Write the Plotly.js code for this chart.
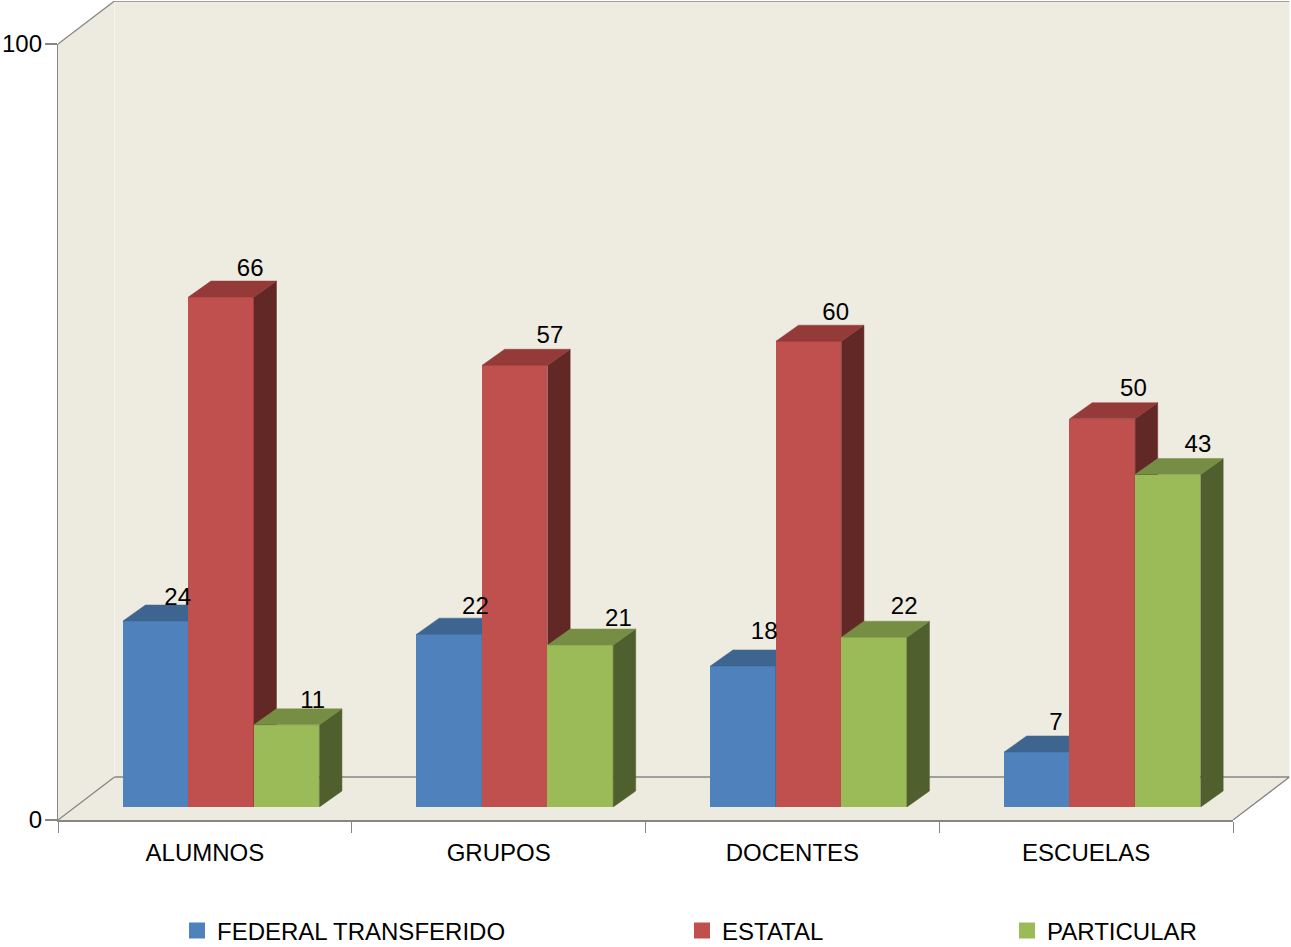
<!DOCTYPE html>
<html>
<head>
<meta charset="utf-8">
<script src="https://cdn.plot.ly/plotly-3.0.1.min.js"></script>
<style>html,body{margin:0;padding:0;background:#fff}</style>
</head>
<body>
<div id="chart" style="width:1291px;height:947px"></div>
<script>
// ---- data ----
const categories = ['ALUMNOS', 'GRUPOS', 'DOCENTES', 'ESCUELAS'];
const federal = [24.0, 22.3, 18.2, 7.1];
const estatal = [65.8, 57.0, 60.1, 50.1];
const particular = [10.6, 20.9, 21.9, 42.9];
const seriesNames = ['FEDERAL TRANSFERIDO', 'ESTATAL', 'PARTICULAR'];
const yTicks = [0, 100];

// ---- styles ----
const W = 1291, H = 947;
const pxX = 293.75, pxY = 7.76, pxYBar = 7.75;
const font = '"Liberation Sans", Arial, sans-serif';
const colors = [
  {front:'#4F81BD', top:'#3E6490', side:'#2E4B6E'},
  {front:'#C0504D', top:'#943B39', side:'#622826'},
  {front:'#9BBB59', top:'#768E44', side:'#4F5F2D'}
];
const barW = 65.5 / pxX, depthX = 22.5 / pxX, depthY = 16 / pxYBar;
const wallX = 56.5 / pxX, wallY = 43 / pxY;
const wallColor = '#EDEADF', edge = '#868686';
const seriesValues = [federal, estatal, particular];
// label nudges in pixels from each bar's top-centre
const labelDx = [[22,26,21,19],[29,35,27,31],[26,38,30,30]];
const labelDy = [[22,26,32.5,28],[27,28,27,29],[23,25,29,29]];

function poly(points, color, xa, ya){
  return {type:'scatter', mode:'lines', x:points.map(p=>p?p[0]:null), y:points.map(p=>p?p[1]:null),
    fill:'toself', fillcolor:color, line:{color:color,width:0.5}, xaxis:xa, yaxis:ya,
    cliponaxis:false, hoverinfo:'skip', showlegend:false};
}

const traces = [];
// walls and floor, on a hidden subplot wide enough to hold the depth of the box
const n = categories.length;
const wallTop = 100 + wallY, wallRight = n + wallX;
traces.push(poly([[0,0],[wallX,wallY],[wallX,wallTop],[0,100],[0,0]], wallColor, 'x','y'));
traces.push(poly([[wallX,wallY],[wallRight,wallY],[wallRight,wallTop],[wallX,wallTop],[wallX,wallY]], '#EEEBE0', 'x','y'));
traces.push(poly([[0,0],[n,0],[wallRight,wallY],[wallX,wallY],[0,0]], wallColor, 'x','y'));
traces.push({type:'scatter', mode:'lines', xaxis:'x', yaxis:'y', cliponaxis:false, hoverinfo:'skip', showlegend:false,
  line:{color:'#F5F3EC',width:1},
  x:[wallX,wallX], y:[wallY,wallTop]});
traces.push({type:'scatter', mode:'lines', xaxis:'x', yaxis:'y', cliponaxis:false, hoverinfo:'skip', showlegend:false,
  line:{color:edge,width:1.3},
  x:[0,wallX,wallRight,null,wallX,wallRight,n,null,0,wallX],
  y:[100,wallTop,wallTop,null,wallY,wallY,0,null,0,wallY]});

// bars: one overlaid subplot per series, so each series paints over the previous one
seriesValues.forEach((vals,s)=>{
  const ax = s+2, xa='x'+ax, ya='y'+ax;
  const off = (s-1.5)*barW;
  const xs = categories.map((_,i)=>i+0.5);
  traces.push({type:'bar', x:xs, y:vals, width:barW, offset:off, name:seriesNames[s],
    marker:{color:colors[s].front,line:{width:0}}, xaxis:xa, yaxis:ya, hoverinfo:'y', showlegend:false});
  const side=[], top=[];
  vals.forEach((v,i)=>{
    const x0=i+0.5+off, x1=x0+barW;
    side.push([x1,0],[x1+depthX,depthY],[x1+depthX,v+depthY],[x1,v],[x1,0],null);
    top.push([x0,v],[x1,v],[x1+depthX,v+depthY],[x0+depthX,v+depthY],[x0,v],null);
  });
  traces.push(poly(side,colors[s].side,xa,ya));
  traces.push(poly(top,colors[s].top,xa,ya));
});
// value labels, above every bar
seriesValues.forEach((vals,s)=>{
  const off=(s-1)*barW;
  traces.push({type:'scatter', mode:'text', xaxis:'x4', yaxis:'y4', cliponaxis:false, hoverinfo:'skip', showlegend:false,
    x:vals.map((v,i)=>i+0.5+off+labelDx[s][i]/pxX),
    y:vals.map((v,i)=>v+labelDy[s][i]/pxYBar),
    text:vals.map(v=>String(Math.round(v))), textposition:'middle center',
    textfont:{family:font,size:24,color:'#000'}});
});
// legend entries (these also bring the visible axes x5/y5 into the plot)
seriesNames.forEach((name,s)=>{
  traces.push({type:'scatter', mode:'markers', x:[null], y:[null], name:name, xaxis:'x5', yaxis:'y5',
    marker:{symbol:'square',size:16,color:colors[s].front,line:{width:0}},
    legend: s===0?'legend':'legend'+(s+1), showlegend:true, hoverinfo:'skip'});
});

const hidden = {visible:false, range:[0,n], fixedrange:true};
const hiddenY = {visible:false, range:[0,100], fixedrange:true};
const barDomX = [74.3/W, 1249.3/W], barDomY = [(H-807)/H, (H-32)/H];
const legendBase = y=>({orientation:'h', yanchor:'middle', y:y, xanchor:'left',
  font:{family:font,size:24,color:'#000'}, bgcolor:'rgba(0,0,0,0)', borderwidth:0, itemclick:false, itemdoubleclick:false});

const layout = {
  width:W, height:H, margin:{l:0,r:0,t:0,b:0,autoexpand:false},
  paper_bgcolor:'#fff', plot_bgcolor:'rgba(0,0,0,0)', font:{family:font,size:24,color:'#000'},
  showlegend:true, bargap:0, hovermode:'closest',
  // hidden wall subplot: same scale as the visible axes, extended by the box depth
  xaxis:{visible:false, domain:[58/W,(1233+56.5)/W], range:[0,wallRight], anchor:'y', fixedrange:true},
  yaxis:{visible:false, domain:[(H-820)/H,(H-1)/H], range:[0,wallTop], anchor:'x', fixedrange:true},
  // visible axes
  xaxis5:{domain:[58/W,1233/W], range:[0,n], anchor:'y5', tickvals:categories.map((_,i)=>i+0.5), ticktext:categories,
    ticks:'', showgrid:false, zeroline:false, showline:true, linecolor:edge, linewidth:2, ticklabelstandoff:10,
    tickfont:{family:font,size:24,color:'#000'},
    minor:{tickvals:categories.map((_,i)=>i).concat([n]), ticks:'outside', ticklen:11, tickwidth:1.3, tickcolor:edge, showgrid:false},
    fixedrange:true},
  yaxis5:{domain:[(H-820)/H,(H-44)/H], range:[0,100], anchor:'x5', tickvals:yTicks, ticks:'outside', ticklen:12, tickwidth:1.5, tickcolor:edge,
    showgrid:false, zeroline:false, showline:true, linecolor:edge, linewidth:1.3, ticklabelstandoff:-2,
    tickfont:{family:font,size:24,color:'#000'}, fixedrange:true},
  xaxis2:Object.assign({},hidden,{domain:barDomX,anchor:'y2'}),
  yaxis2:Object.assign({},hiddenY,{domain:barDomY,anchor:'x2'}),
  xaxis3:Object.assign({},hidden,{overlaying:'x2',anchor:'y3'}),
  yaxis3:Object.assign({},hiddenY,{overlaying:'y2',anchor:'x3'}),
  xaxis4:Object.assign({},hidden,{overlaying:'x2',anchor:'y4'}),
  yaxis4:Object.assign({},hiddenY,{overlaying:'y2',anchor:'x4'}),
  legend:Object.assign(legendBase(16/H),{x:177/W}),
  legend2:Object.assign(legendBase(16/H),{x:682/W}),
  legend3:Object.assign(legendBase(16/H),{x:1007/W})
};
Plotly.newPlot('chart', traces, layout, {displayModeBar:false});
</script>
</body>
</html>
